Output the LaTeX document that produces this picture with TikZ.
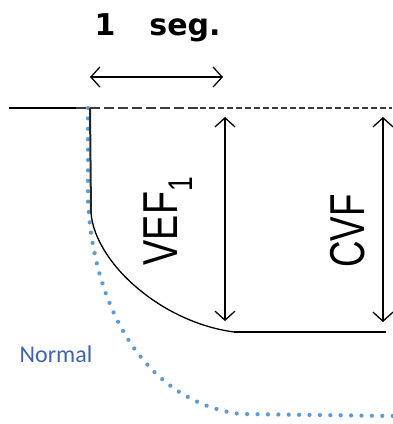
\documentclass[tikz,border=0pt]{standalone}
\usepackage{fontspec}
\usepackage{graphicx}
\setmainfont{Liberation Sans}
\newfontfamily\dejab{DejaVu Sans}
\newfontfamily\carl{Carlito}
\usetikzlibrary{arrows.meta}
\definecolor{dotblue}{HTML}{5B9BD5}
\definecolor{txtblue}{HTML}{4063B0}
\definecolor{dashgray}{HTML}{3A3A3A}
\tikzset{
  dimarrow/.style={line width=1.4pt, {Straight Barb[length=9pt,width=20pt,line width=1.3pt]}-{Straight Barb[length=9pt,width=20pt,line width=1.3pt]}},
  dotcurve/.style={dotblue, line width=4pt, line cap=round, dash pattern=on 0pt off 10.4pt},
  dotshadow/.style={black!25, line width=4.5pt, line cap=round, dash pattern=on 0pt off 10.4pt, opacity=0.6},
  bigtitle/.style={font=\dejab\bfseries\fontsize{30}{32}\selectfont, inner sep=0pt, anchor=base},
  rotlabel/.style={font=\fontsize{49}{52}\selectfont, rotate=90, inner sep=0pt},
  normaltext/.style={font=\carl\fontsize{24}{26}\selectfont, text=txtblue, inner sep=0pt}
}
\begin{document}
\begin{tikzpicture}[x=1pt,y=-1pt]
\useasboundingbox (0,0) rectangle (392,424);
% title
\node[bigtitle] (t1) at (105,35) {1};
\node[bigtitle] (tseg) at (185,35) {seg.};
% top time arrow
\coordinate (h1) at (90,77);
\coordinate (h2) at (223,77);
\draw[dimarrow] (h1) -- (h2);
% baseline
\coordinate (b0) at (9,108);
\coordinate (b1) at (76,108);
\coordinate (bm) at (200,108);
\coordinate (b2) at (392,108);
\draw[line width=2pt] (b0) -- (b1);
\draw[dashgray, line width=1.9pt, dash pattern=on 10pt off 4pt] (b1) -- (bm);
\draw[dashgray, line width=1.9pt, dash pattern=on 6pt off 3pt] (bm) -- (b2);
% normal curve (dotted)
\coordinate (n0) at (88,108);
\coordinate (n1) at (88,200);
\coordinate (n2) at (240,414);
\coordinate (n3) at (394,416);
\draw[dotshadow, shift={(1.5,1.8)}] (n0) -- (n1) .. controls (92,300) and (140,400) .. (n2) -- (n3);
\draw[dotcurve] (n0) -- (n1) .. controls (92,300) and (140,400) .. (n2) -- (n3);
% measured curve
\coordinate (m0) at (90,108);
\coordinate (m1) at (91,213);
\coordinate (m2) at (234,332);
\coordinate (m3) at (386,332);
\draw[black!85, line width=2pt] (m0) -- (m1);
\draw[line width=1.3pt] (m1) .. controls (95,262) and (160,322) .. (m2);
\draw[line width=1.6pt] (m2) -- (m3);
% vertical dimension arrows
\coordinate (v1t) at (225,117);
\coordinate (v1b) at (225,321);
\coordinate (v2t) at (383,117);
\coordinate (v2b) at (383,322);
\draw[dimarrow] (v1t) -- (v1b);
\draw[dimarrow] (v2t) -- (v2b);
% labels
\node[rotlabel] (vef) at (168,221) {\scalebox{0.77}[1]{VEF\textsubscript{1}}};
\node[rotlabel] (cvf) at (348,231) {\scalebox{0.75}[1]{CVF}};
\node[normaltext] (normal) at (56,354) {Normal};
\end{tikzpicture}
\end{document}
